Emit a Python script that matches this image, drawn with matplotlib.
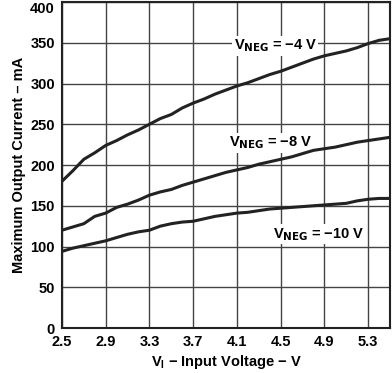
import numpy as np
import matplotlib
matplotlib.use('Agg')
import matplotlib.pyplot as plt
import matplotlib.transforms as mtransforms

plt.rcParams['font.family'] = ['Liberation Sans', 'DejaVu Sans']
plt.rcParams['font.weight'] = 'bold'

# input voltage (V)
vin = np.round(np.arange(2.5, 5.51, 0.1), 1)

# maximum output current (mA) for each VNEG
i_neg4 = [180, 193, 207, 215, 224, 230, 237, 243, 250, 257, 262, 270, 276, 281, 287, 292,
          297, 301, 306, 311, 315, 320, 325, 330, 334, 337, 340, 344, 349, 353, 355]
i_neg8 = [120, 124, 128, 137, 141, 148, 152, 157, 163, 167, 170, 175, 179, 183, 187, 191,
          194, 197, 201, 204, 207, 210, 214, 218, 220, 222, 225, 228, 230, 232, 234]
i_neg10 = [94, 98, 101, 104, 107, 111, 115, 118, 120, 125, 128, 130, 131, 134, 137, 139,
           141, 142, 144, 146, 147, 148, 149, 150, 151, 152, 153, 156, 158, 159, 159]

xticks = [2.5, 2.9, 3.3, 3.7, 4.1, 4.5, 4.9, 5.3]
yticks = [0, 50, 100, 150, 200, 250, 300, 350, 400]

fig = plt.figure(figsize=(3.92, 3.73), dpi=100)
ax = fig.add_axes([0.158, 0.1206, 0.837, 0.874])

for y in i_neg4, i_neg8, i_neg10:
    ax.plot(vin, y, color='#222222', lw=2.2, zorder=5)

ax.set_xlim(2.5, 5.5)
ax.set_ylim(0, 400)
ax.set_xticks(xticks)
ax.set_xticklabels([f'{v:.1f}' for v in xticks])
ax.set_yticks(yticks)
ax.grid(True, color='#444444', lw=1.0)
ax.tick_params(length=0, labelsize=10.5, pad=5)
for s in ax.spines.values():
    s.set_linewidth(1.5)
    s.set_color('#222222')

# top label sits a bit lower, as in the original
fig.canvas.draw()
lbl = ax.get_yticklabels()[-1]
lbl.set_transform(lbl.get_transform() + mtransforms.ScaledTranslation(0, -4 / 72, fig.dpi_scale_trans))

ax.set_xlabel(r'V$_\mathregular{I}$ $\mathregular{-}$ Input Voltage $\mathregular{-}$ V',
              fontsize=10.5, fontweight='bold', labelpad=3)
ax.set_ylabel('Maximum Output Current \u2013 mA', fontsize=10.5, fontweight='bold', labelpad=3)

box = dict(facecolor='white', edgecolor='none', pad=1)
ax.text(4.07, 346, r'V$_\mathbf{NEG}$ = ' + '\u22124 V', fontsize=10.5, va='center', bbox=box, zorder=4)
ax.text(4.03, 227, r'V$_\mathbf{NEG}$ = ' + '\u22128 V', fontsize=10.5, va='center', bbox=box, zorder=4)
ax.text(4.43, 115, r'V$_\mathbf{NEG}$ = ' + '\u221210 V', fontsize=10.5, va='center', bbox=box, zorder=4)

plt.savefig('out.png', dpi=100)
